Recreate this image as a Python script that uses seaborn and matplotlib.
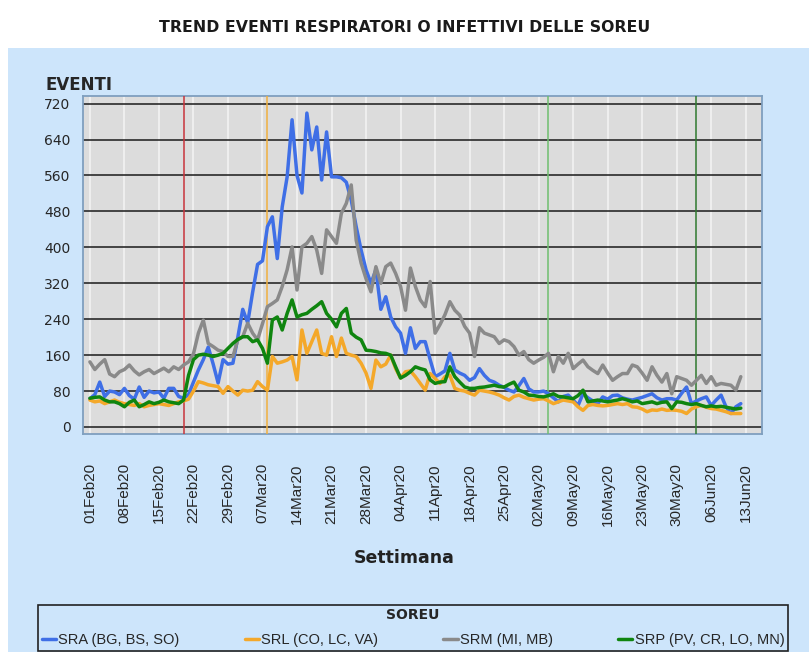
import pandas as pd
import numpy as np
import matplotlib
matplotlib.use("Agg")
import matplotlib.pyplot as plt
import matplotlib.dates as mdates
from matplotlib.patches import Rectangle
import seaborn as sns

# daily events per SOREU, from 01Feb20
start_date = "2020-02-01"

sra = [63, 72, 100, 68, 80, 78, 72, 86, 70, 62, 89, 66, 80, 76, 78, 64, 86, 86, 68, 64,
       72, 100, 127, 150, 178, 140, 98, 150, 140, 142, 200, 262, 232, 300, 362, 370, 446, 468, 375, 490,
       557, 684, 560, 521, 699, 617, 668, 550, 657, 557, 557, 555, 545, 505, 446, 394, 350, 320, 350, 262,
       290, 245, 223, 209, 164, 221, 175, 190, 190, 150, 112, 118, 125, 164, 127, 120, 115, 104, 110, 130,
       115, 104, 100, 93, 88, 82, 78, 92, 108, 85, 78, 78, 80, 74, 65, 56, 68, 71, 60, 48,
       74, 65, 58, 52, 67, 62, 70, 71, 65, 62, 60, 63, 66, 70, 74, 65, 60, 63, 63, 60,
       75, 89, 52, 58, 63, 67, 48, 60, 71, 45, 30, 45, 52]

srl = [60, 56, 58, 52, 56, 60, 55, 52, 50, 48, 52, 45, 48, 50, 52, 50, 48, 52, 56, 58,
       62, 80, 101, 98, 94, 92, 90, 75, 90, 80, 71, 82, 80, 82, 101, 90, 82, 157, 142, 145,
       149, 157, 105, 216, 164, 190, 216, 164, 160, 201, 157, 198, 164, 160, 157, 142, 120, 86, 149, 134,
       140, 160, 130, 109, 123, 125, 112, 97, 82, 119, 108, 97, 112, 115, 86, 82, 80, 75, 71, 82,
       80, 78, 75, 71, 65, 60, 68, 71, 66, 63, 60, 62, 63, 58, 52, 56, 60, 58, 56, 45,
       37, 48, 50, 48, 47, 48, 50, 52, 50, 52, 45, 44, 40, 34, 38, 37, 40, 37, 38, 37,
       35, 30, 40, 45, 48, 44, 41, 40, 37, 34, 30, 30, 30]

srm = [145, 128, 140, 150, 118, 112, 123, 128, 138, 125, 116, 123, 128, 119, 125, 131, 123, 134, 128, 138,
       145, 163, 209, 238, 186, 179, 171, 168, 157, 157, 194, 201, 231, 209, 194, 230, 268, 275, 283, 313,
       350, 401, 305, 401, 409, 424, 394, 342, 439, 424, 409, 476, 498, 539, 416, 365, 330, 301, 357, 320,
       357, 365, 342, 313, 260, 354, 313, 283, 268, 324, 209, 228, 250, 279, 260, 249, 224, 209, 157, 221,
       209, 205, 201, 186, 194, 190, 179, 160, 168, 150, 142, 149, 155, 164, 123, 157, 142, 164, 130, 140,
       149, 134, 126, 119, 138, 120, 104, 112, 119, 119, 138, 134, 120, 104, 134, 115, 100, 119, 74, 112,
       108, 104, 93, 104, 115, 97, 112, 93, 97, 95, 93, 82, 112]

srp = [64, 66, 67, 60, 56, 56, 52, 45, 55, 60, 45, 50, 56, 52, 55, 60, 56, 54, 52, 60,
       115, 150, 160, 162, 160, 157, 160, 164, 175, 186, 195, 201, 201, 190, 194, 175, 142, 238, 245, 216,
       253, 283, 245, 250, 253, 262, 270, 279, 253, 240, 223, 253, 264, 209, 200, 194, 171, 170, 168, 165,
       164, 160, 134, 109, 115, 123, 134, 130, 127, 105, 97, 100, 101, 134, 112, 100, 89, 86, 86, 88,
       89, 91, 93, 90, 89, 95, 100, 82, 78, 71, 70, 68, 67, 70, 74, 68, 67, 65, 63, 70,
       82, 56, 58, 60, 58, 56, 58, 60, 63, 60, 56, 58, 52, 54, 56, 52, 55, 56, 41, 56,
       55, 52, 50, 52, 48, 45, 47, 45, 46, 44, 42, 40, 42]

series_names = ["SRA (BG, BS, SO)", "SRL (CO, LC, VA)", "SRM (MI, MB)", "SRP (PV, CR, LO, MN)"]
series_colors = ["#3f6fe6", "#f4a82a", "#8a8a8a", "#0f850f"]

# reference events (vertical lines)
event_dates = ["2020-02-20", "2020-03-08", "2020-05-04", "2020-06-03"]
event_colors = ["#c8343c", "#f0b040", "#6fbf6f", "#2f7a2f"]

y_ticks = list(range(0, 721, 80))

dates = pd.date_range(start_date, periods=len(sra), freq="D")
frames = []
for name, vals in zip(series_names, [sra, srl, srm, srp]):
    frames.append(pd.DataFrame({"data": dates, "eventi": vals, "soreu": name}))
df = pd.concat(frames, ignore_index=True)

sns.set_style("white")
plt.rcParams["font.family"] = ["DejaVu Sans"]

W, H = 809, 652
fig = plt.figure(figsize=(W / 100, H / 100), dpi=100, facecolor="white")
fig.patches.append(Rectangle((8 / W, 0), 1, 1 - 48 / H, transform=fig.transFigure,
                             facecolor="#cde5fb", edgecolor="none", zorder=-10))

ax = fig.add_axes([83 / W, 1 - 434 / H, (762 - 83) / W, (434 - 96) / H])
ax.set_facecolor("#dcdcdc")

sns.lineplot(data=df, x="data", y="eventi", hue="soreu", hue_order=series_names,
             palette=dict(zip(series_names, series_colors)), linewidth=2.5, ax=ax,
             legend=True, zorder=5)

for d, c in zip(event_dates, event_colors):
    ax.axvline(pd.Timestamp(d), color=c, linewidth=1.1, zorder=3)

week_ticks = pd.date_range("2020-02-01", "2020-06-13", freq="7D")
ax.set_xticks(week_ticks)
ax.xaxis.set_major_formatter(mdates.DateFormatter("%d%b%y"))
t0 = mdates.date2num(pd.Timestamp(start_date))
ax.set_xlim(t0 - 1.4, t0 + 136.3)
ax.set_ylim(-15.6, 737)
ax.set_yticks(y_ticks)

for y in y_ticks:
    ax.axhline(y, color="#1a1a1a", linewidth=1.1, zorder=2)
for t in week_ticks:
    ax.axvline(t, color="#f2f2f2", linewidth=1.2, zorder=1)

ax.tick_params(axis="x", labelrotation=90, length=7, width=1.2,
               color="#6b8fb3", pad=14)
ax.tick_params(axis="y", labelsize=10, length=6, width=1.2, color="#6b8fb3", pad=3)
for lab in ax.get_xticklabels():
    lab.set_family("Liberation Sans")
    lab.set_fontsize(11)
for s in ax.spines.values():
    s.set_color("#7f9fbf")
    s.set_linewidth(1.3)

ax.set_xlabel("")
ax.set_ylabel("")
ax.text(-0.055, 1.005, "EVENTI", transform=ax.transAxes, fontsize=12,
        fontweight="bold", ha="left", va="bottom")
fig.text(0.5, 1 - 558 / H, "Settimana", ha="center", va="center",
         fontsize=12.5, fontweight="bold", color="#222222")

fig.text(0.5, 1 - 27 / H, "TREND EVENTI RESPIRATORI O INFETTIVI DELLE SOREU",
         ha="center", va="center", fontsize=11.3, fontweight="bold", color="#1a1a1a")

handles, labels = ax.get_legend_handles_labels()
ax.get_legend().remove()
leg = fig.legend(handles, labels, title="SOREU", ncol=4, loc="lower left",
                 bbox_to_anchor=(38 / W, 1 / H, (788 - 38) / W, 53 / H), mode="expand",
                 frameon=True, fancybox=False, edgecolor="#222222", facecolor="#cde5fb",
                 handlelength=1.0, handletextpad=0.15, borderaxespad=0, borderpad=0.25,
                 prop={"family": "Liberation Sans", "size": 10.5},
                 title_fontproperties={"weight": "bold", "size": 10})
leg.get_frame().set_linewidth(1.2)
leg.get_frame().set_alpha(1)
leg._legend_box.sep = 8

plt.savefig("out.png", dpi=100, facecolor=fig.get_facecolor())
